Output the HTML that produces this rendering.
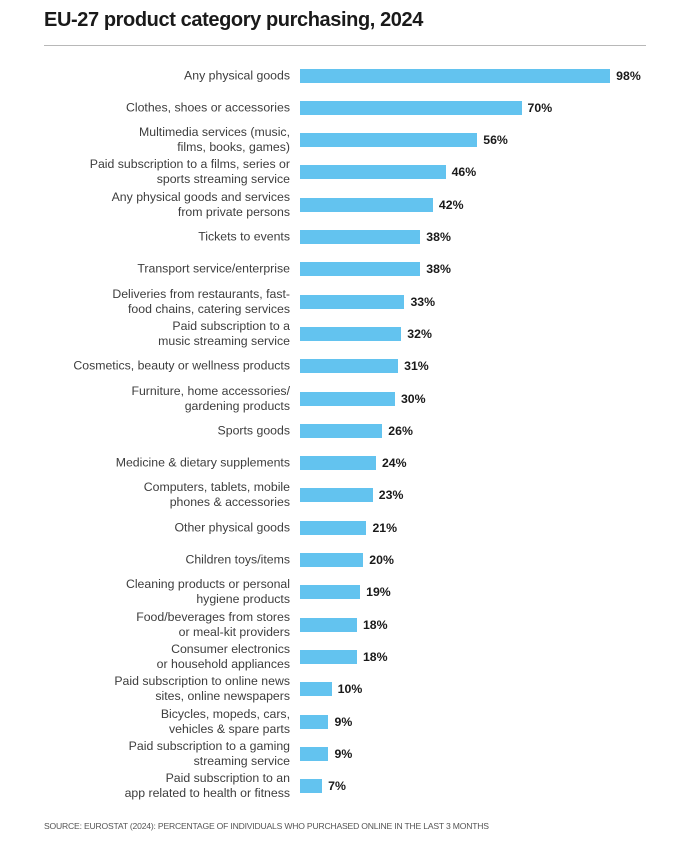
<!DOCTYPE html>
<html><head><meta charset="utf-8"><style>
body{margin:0;width:674px;height:841px;background:#fff;position:relative;font-family:"Liberation Sans",sans-serif;overflow:hidden}
.t{position:absolute;left:44px;top:9px;font-size:20px;font-weight:bold;color:#1a1a1a;letter-spacing:-0.4px}
.ln{position:absolute;left:44px;top:45px;width:602px;height:1px;background:#b8b8b8}
.l{position:absolute;right:384px;width:280px;text-align:right;font-size:12.3px;line-height:15px;color:#3d3d3d;transform:translateY(-50%)}
.b{position:absolute;left:300px;height:14px;background:#63c3ef;transform:translateY(-50%)}
.v{position:absolute;font-size:12.3px;font-weight:bold;color:#1a1a1a;transform:translateY(-50%)}
.s{position:absolute;left:44px;top:821px;font-size:8.6px;color:#555;letter-spacing:-0.2px}
</style></head><body>
<div class="t">EU-27 product category purchasing, 2024</div>
<div class="ln"></div>
<div id="c"></div>
<div class="s">SOURCE: EUROSTAT (2024): PERCENTAGE OF INDIVIDUALS WHO PURCHASED ONLINE IN THE LAST 3 MONTHS</div>
<script>
var d=[["Any physical goods",98],["Clothes, shoes or accessories",70],["Multimedia services (music,<br>films, books, games)",56],["Paid subscription to a films, series or<br>sports streaming service",46],["Any physical goods and services<br>from private persons",42],["Tickets to events",38],["Transport service/enterprise",38],["Deliveries from restaurants, fast-<br>food chains, catering services",33],["Paid subscription to a<br>music streaming service",32],["Cosmetics, beauty or wellness products",31],["Furniture, home accessories/<br>gardening products",30],["Sports goods",26],["Medicine &amp; dietary supplements",24],["Computers, tablets, mobile<br>phones &amp; accessories",23],["Other physical goods",21],["Children toys/items",20],["Cleaning products or personal<br>hygiene products",19],["Food/beverages from stores<br>or meal-kit providers",18],["Consumer electronics<br>or household appliances",18],["Paid subscription to online news<br>sites, online newspapers",10],["Bicycles, mopeds, cars,<br>vehicles &amp; spare parts",9],["Paid subscription to a gaming<br>streaming service",9],["Paid subscription to an<br>app related to health or fitness",7]];
var h="";d.forEach(function(r,i){var y=75.5+i*32.3;var w=r[1]*3.165;
h+='<div class="l" style="top:'+y+'px">'+r[0]+'</div><div class="b" style="top:'+y+'px;width:'+w+'px"></div><div class="v" style="top:'+y+'px;left:'+(300+w+6)+'px">'+r[1]+'%</div>';});
document.getElementById("c").innerHTML=h;
</script>
</body></html>
